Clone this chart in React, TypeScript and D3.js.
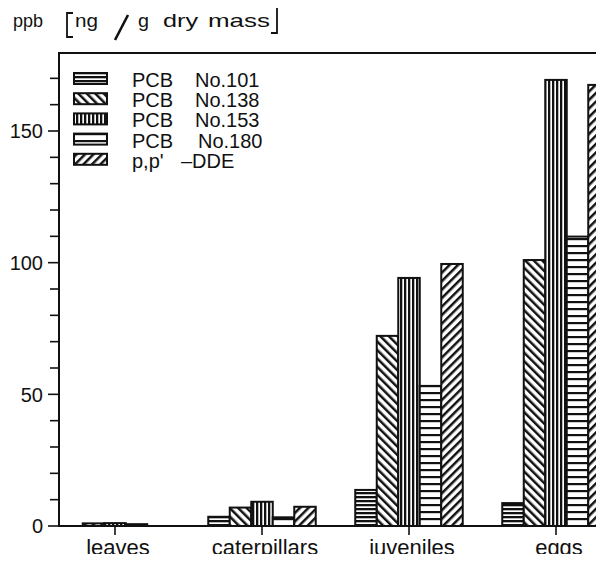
import React, { useEffect, useRef } from 'react';
import * as d3 from 'd3';

const categories = ['leaves', 'caterpillars', 'juveniles', 'eggs'];
const compoundPrefix = ['PCB', 'PCB', 'PCB', 'PCB', "p,p'"];
const compoundNo = ['No.101', 'No.138', 'No.153', 'No.180', '–DDE'];
const pcb101 = [0, 3.5, 13.7, 8.7];
const pcb138 = [1.0, 7.0, 72.2, 101];
const pcb153 = [1.1, 9.2, 94.2, 169.4];
const pcb180 = [0.7, 3.3, 53.2, 109.9];
const ppDDE = [0, 7.3, 99.5, 167.5];
const series = [pcb101, pcb138, pcb153, pcb180, ppDDE];
const yMajorTicks = [0, 50, 100, 150];
const yMinorTicks = d3.range(0, 180, 10);

const W = 604;
const H = 562;
const FONT = '"Liberation Sans", Arial, Helvetica, sans-serif';

export default function App() {
  const svgRef = useRef<SVGSVGElement>(null);

  useEffect(() => {
    if (!svgRef.current) return;
    const svg = d3.select(svgRef.current);
    svg.selectAll('*').remove();

    const left = 59;
    const right = 602;
    const top = 52;
    const bottom = 526;

    const y = d3.scaleLinear().domain([0, 180]).range([bottom, top]);
    const xc = d3.scalePoint<string>().domain(categories).range([115, 556]);
    const groupW = 107.5;
    const x1 = d3.scaleBand<number>().domain(d3.range(series.length)).range([-groupW / 2, groupW / 2]);

    const defs = svg.append('defs');
    // hatch fills
    const hatch = (id: string, w: number, h: number, rot: number, draw: (p: any) => void) => {
      const p = defs.append('pattern')
        .attr('id', id)
        .attr('patternUnits', 'userSpaceOnUse')
        .attr('width', w)
        .attr('height', h)
        .attr('patternTransform', rot ? `rotate(${rot})` : null);
      p.append('rect').attr('width', w).attr('height', h).attr('fill', '#fff');
      draw(p);
    };
    hatch('p101', 8, 4, 0, p => p.append('rect').attr('width', 8).attr('height', 2.3).attr('fill', '#111'));
    hatch('p138', 6, 8, -45, p => p.append('rect').attr('width', 2.5).attr('height', 8).attr('fill', '#111'));
    hatch('p153', 4, 8, 0, p => p.append('rect').attr('width', 2.3).attr('height', 8).attr('fill', '#111'));
    hatch('p180', 8, 7, 0, p => p.append('rect').attr('width', 8).attr('height', 2.2).attr('fill', '#111'));
    hatch('pDDE', 6, 8, 45, p => p.append('rect').attr('width', 2.5).attr('height', 8).attr('fill', '#111'));
    const fills = ['url(#p101)', 'url(#p138)', 'url(#p153)', 'url(#p180)', 'url(#pDDE)'];

    defs.append('clipPath').attr('id', 'plot-clip')
      .append('rect').attr('x', left).attr('y', 0).attr('width', right - left).attr('height', bottom + 1);

    // Title, set word by word (the original face is an extended grotesque)
    const title = svg.append('g').attr('font-family', FONT).attr('font-size', 19).attr('fill', '#111');
    const word = (t: string, x: number, len: number) =>
      title.append('text').attr('x', x).attr('y', 27)
        .attr('textLength', len).attr('lengthAdjust', 'spacingAndGlyphs').text(t);
    word('ppb', 13, 30);
    word('ng', 75, 23);
    word('g', 138, 11);
    word('dry', 163, 35);
    word('mass', 208, 62);
    svg.append('path').attr('d', 'M73,13 L67,13 L67,37 L73,37').attr('fill', 'none').attr('stroke', '#111').attr('stroke-width', 1.8);
    svg.append('path').attr('d', 'M271,5 L277,5 L277,33 L271,33').attr('fill', 'none').attr('stroke', '#111').attr('stroke-width', 1.8);
    svg.append('line').attr('x1', 115).attr('y1', 40).attr('x2', 128).attr('y2', 15).attr('stroke', '#111').attr('stroke-width', 2.6);

    // Bars
    const bars = svg.append('g').attr('clip-path', 'url(#plot-clip)');
    series.forEach((vals, si) => {
      bars.selectAll(null)
        .data(vals.map((v, i) => ({ cat: categories[i], v })).filter(d => d.v > 0))
        .enter()
        .append('rect')
        .attr('x', d => (xc(d.cat) as number) + (x1(si) as number))
        .attr('y', d => y(d.v))
        .attr('width', x1.bandwidth())
        .attr('height', d => bottom - y(d.v))
        .attr('fill', fills[si])
        .attr('stroke', '#111')
        .attr('stroke-width', 2);
    });

    // Frame
    svg.append('path')
      .attr('d', `M${left},${bottom} L${left},${top + 1} L${right},${top + 1} L${right},${bottom}`)
      .attr('fill', 'none').attr('stroke', '#111').attr('stroke-width', 2);
    svg.append('line').attr('x1', left - 1).attr('x2', W).attr('y1', bottom).attr('y2', bottom)
      .attr('stroke', '#111').attr('stroke-width', 2.2);

    // Y ticks
    const yAx = svg.append('g');
    yAx.selectAll('line').data(yMinorTicks).enter().append('line')
      .attr('x1', d => (yMajorTicks.includes(d) ? left - 11 : left - 9)).attr('x2', left)
      .attr('y1', d => y(d)).attr('y2', d => y(d))
      .attr('stroke', '#111').attr('stroke-width', 1.6);
    yAx.selectAll('text').data(yMajorTicks).enter().append('text')
      .attr('x', 43).attr('y', d => y(d)).attr('dy', '0.36em')
      .attr('text-anchor', 'end')
      .attr('font-family', FONT).attr('font-size', 20).attr('fill', '#111')
      .text(d => d);

    // X ticks & labels
    const xAx = svg.append('g');
    xAx.selectAll('line').data(categories).enter().append('line')
      .attr('x1', d => xc(d) as number).attr('x2', d => xc(d) as number)
      .attr('y1', bottom).attr('y2', bottom + 9)
      .attr('stroke', '#111').attr('stroke-width', 1.6);
    xAx.selectAll('text').data(categories).enter().append('text')
      .attr('x', d => (xc(d) as number) + 3).attr('y', 555)
      .attr('text-anchor', 'middle')
      .attr('font-family', FONT).attr('font-size', 22).attr('fill', '#111')
      .text(d => d);

    // Legend
    const lg = svg.append('g').attr('font-family', FONT).attr('font-size', 20).attr('fill', '#111');
    compoundPrefix.forEach((name, i) => {
      const ry = 73 + i * 20.2;
      lg.append('rect').attr('x', 74).attr('y', ry).attr('width', 33).attr('height', 11)
        .attr('fill', fills[i]).attr('stroke', '#111').attr('stroke-width', 2);
      lg.append('text').attr('x', 132).attr('y', ry + 14).text(name);
      lg.append('text').attr('x', i === 3 ? 198 : i === 4 ? 181 : 195).attr('y', ry + 14).text(compoundNo[i]);
    });
  }, []);

  return (
    <div style={{ width: W, height: H, margin: -8 }}>
      <svg ref={svgRef} width={W} height={H} viewBox={`0 0 ${W} ${H}`} style={{ display: 'block', background: '#fff' }} />
    </div>
  );
}
